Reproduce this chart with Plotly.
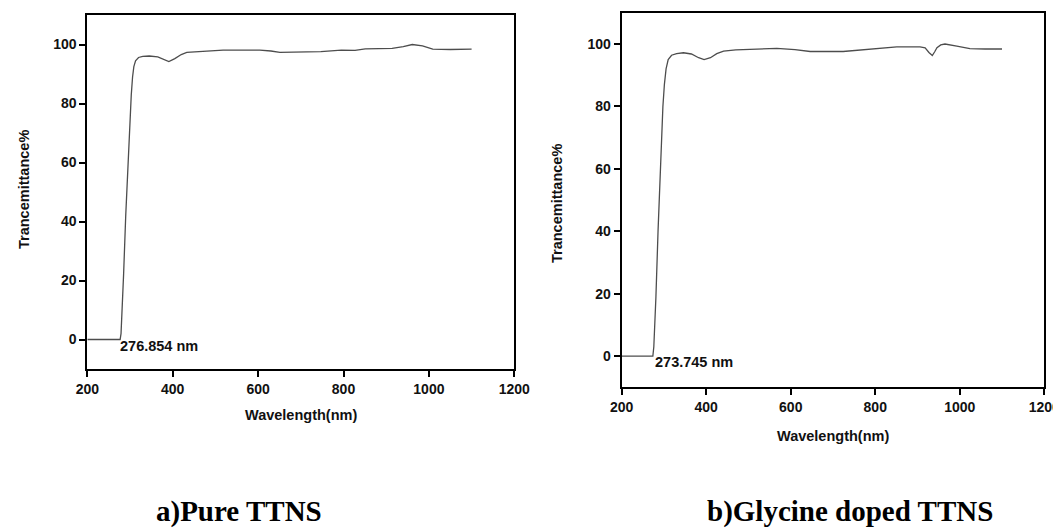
import plotly.graph_objects as go

W, H = 1061, 529
OFF = 8  # page body margin offset

# ---- data ----
pure_wl = [200, 276.854, 279, 282, 285, 290, 295, 300, 303, 306, 309, 313, 320, 330, 345, 365,
           378, 391, 405, 420, 433, 460, 518, 604, 630, 651, 698, 747, 795, 827, 851, 880,
           914, 940, 961, 985, 1009, 1050, 1100]
pure_T = [0, 0, 2, 10, 22, 42, 60, 75, 83, 89, 92.5, 94.5, 95.6, 96.0, 96.1, 95.8,
          95.0, 94.2, 95.2, 96.6, 97.3, 97.6, 98.1, 98.1, 97.8, 97.3, 97.5, 97.6, 98.1, 98.0, 98.5, 98.6,
          98.7, 99.3, 100.0, 99.5, 98.4, 98.3, 98.4]

gly_wl = [200, 273.745, 276, 279, 281, 286, 291, 295, 297.5, 301, 305, 310, 318, 330, 346, 365,
          382, 395, 410, 425, 441, 470, 504, 567, 610, 646, 724, 780, 851, 906, 918, 927,
          935, 941, 946, 955, 965, 993, 1024, 1060, 1100]
gly_T = [0, 0, 3, 12, 19, 40, 59, 72, 80, 87, 92, 95, 96.4, 96.9, 97.2, 96.8,
         95.6, 95.0, 95.6, 96.9, 97.7, 98.1, 98.3, 98.6, 98.2, 97.6, 97.6, 98.3, 99.1, 99.1, 98.8, 97.3,
         96.3, 97.6, 98.8, 99.7, 100.0, 99.3, 98.5, 98.4, 98.4]

x_ticks = [200, 400, 600, 800, 1000, 1200]
y_ticks = [0, 20, 40, 60, 80, 100]
x_range = [200, 1200]
y_range = [-10, 110]

cut_pure, cut_gly = 276.854, 273.745
cut_labels = ["276.854 nm", "273.745 nm"]
captions = ["a)Pure TTNS", "b)Glycine doped TTNS"]
x_title = "Wavelength(nm)"
y_title = "Trancemittance%"

# ---- figure ----
SANS = "Arial, Liberation Sans, sans-serif"
SERIF = "Times New Roman, Liberation Serif, serif"
line_col = "#4d4d4d"

fig = go.Figure()
fig.add_trace(go.Scatter(x=pure_wl, y=pure_T, mode="lines",
                         line=dict(color=line_col, width=1.3), xaxis="x", yaxis="y",
                         showlegend=False, hoverinfo="skip"))
fig.add_trace(go.Scatter(x=gly_wl, y=gly_T, mode="lines",
                         line=dict(color=line_col, width=1.3), xaxis="x2", yaxis="y2",
                         showlegend=False, hoverinfo="skip"))

def px(v):
    return (v - OFF) / W

def py(v):
    return 1 - (v - OFF) / H

axis_common = dict(showgrid=False, zeroline=False, showline=True, linecolor="black",
                   linewidth=2, mirror=True, ticks="outside", ticklen=6, tickwidth=1.8,
                   tickcolor="black", automargin=False,
                   tickfont=dict(family=SANS, size=14, color="#111111", weight="bold"))

fig.update_layout(
    width=W, height=H, autosize=False,
    margin=dict(l=0, r=0, t=0, b=0, pad=0),
    paper_bgcolor="white", plot_bgcolor="white",
    xaxis=dict(domain=[px(87.3), px(514.3)], range=x_range, tickvals=x_ticks,
               anchor="y", **axis_common),
    yaxis=dict(domain=[py(369), py(15)], range=y_range, tickvals=y_ticks,
               anchor="x", **axis_common),
    xaxis2=dict(domain=[px(621.7), px(1044.3)], range=x_range, tickvals=x_ticks,
                anchor="y2", **axis_common),
    yaxis2=dict(domain=[py(387.3), py(12.8)], range=y_range, tickvals=y_ticks,
                anchor="x2", **axis_common),
)

ann_font = dict(family=SANS, size=14.5, color="#111111", weight="bold")
cap_font = dict(family=SERIF, size=29, color="black", weight="bold")
annotations = [
    dict(x=cut_pure, y=-2.3, xref="x", yref="y", text=cut_labels[0], showarrow=False,
         xanchor="left", yanchor="middle", xshift=-2, font=ann_font),
    dict(x=cut_gly, y=-2.0, xref="x2", yref="y2", text=cut_labels[1], showarrow=False,
         xanchor="left", yanchor="middle", xshift=0, font=ann_font),
    # axis titles
    dict(x=px(300.8), y=py(415), xref="paper", yref="paper", text=x_title, showarrow=False,
         xanchor="center", yanchor="middle", font=ann_font),
    dict(x=px(833), y=py(436), xref="paper", yref="paper", text=x_title, showarrow=False,
         xanchor="center", yanchor="middle", font=ann_font),
    dict(x=px(24), y=py(190), xref="paper", yref="paper", text=y_title, showarrow=False,
         textangle=-90, xanchor="center", yanchor="middle", font=ann_font),
    dict(x=px(557), y=py(204), xref="paper", yref="paper", text=y_title, showarrow=False,
         textangle=-90, xanchor="center", yanchor="middle", font=ann_font),
    # captions
    dict(x=px(239), y=py(511), xref="paper", yref="paper", text=captions[0], showarrow=False,
         xanchor="center", yanchor="middle", font=cap_font),
    dict(x=px(850), y=py(511), xref="paper", yref="paper", text=captions[1], showarrow=False,
         xanchor="center", yanchor="middle", font=cap_font),
]
fig.update_layout(annotations=annotations)

fig.write_html("out.html")
